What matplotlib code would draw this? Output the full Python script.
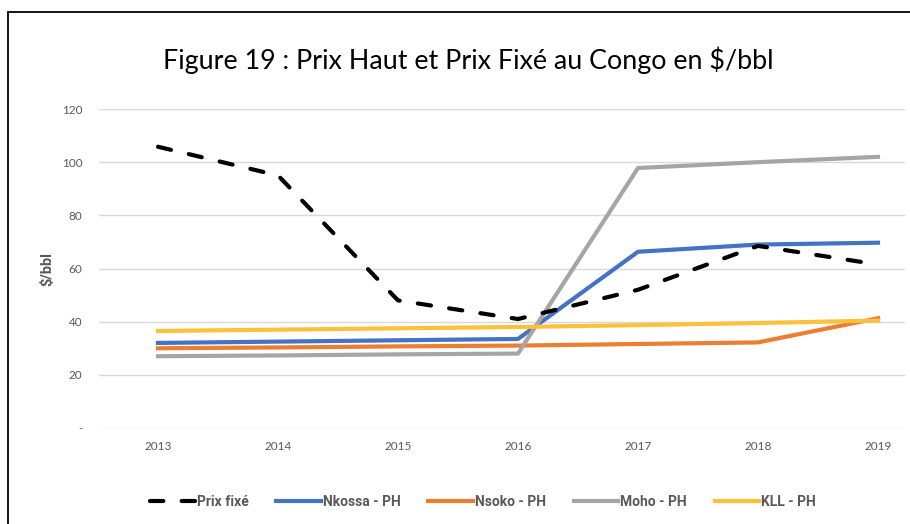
import matplotlib
matplotlib.use("Agg")
import matplotlib.pyplot as plt
from matplotlib.patches import Rectangle

years = [2013, 2014, 2015, 2016, 2017, 2018, 2019]
prix_fixe = [105.8, 95.0, 48.0, 41.0, 52.0, 68.5, 61.5]
nkossa = [32.0, 32.5, 33.0, 33.5, 66.3, 69.0, 69.7]
nsoko = [30.0, 30.3, 30.7, 31.0, 31.6, 32.2, 41.3]
moho = [27.0, 27.3, 27.7, 28.0, 97.8, 100.0, 102.0]
kll = [36.5, 37.0, 37.5, 38.0, 38.7, 39.5, 40.4]

y_ticks = [0, 20, 40, 60, 80, 100, 120]
y_labels = ["-", "20", "40", "60", "80", "100", "120"]

W, H = 910, 524
font = "Lato"
font_bold = "Roboto"
grey_txt = "#595959"

fig = plt.figure(figsize=(W / 100, H / 100), dpi=100)
fig.patch.set_facecolor("white")

# cadre noir autour du graphique
fig.patches.append(Rectangle((8 / W, -0.1), 1.2, 1 - 12 / H + 0.1, transform=fig.transFigure,
                             fill=False, edgecolor="black", linewidth=1.3))

ax = fig.add_axes([99 / W, 1 - 428 / H, (905 - 99) / W, (428 - 109) / H])

lw = 3.0
ax.plot(years, prix_fixe, color="black", linewidth=lw, linestyle=(0, (3.2, 4.4)),
        dash_capstyle="round", solid_joinstyle="round", label="Prix fixé", zorder=3)
ax.plot(years, nkossa, color="#4472C4", linewidth=lw, label="Nkossa - PH", zorder=2)
ax.plot(years, nsoko, color="#ED7D31", linewidth=lw, label="Nsoko - PH", zorder=2)
ax.plot(years, moho, color="#A5A5A5", linewidth=lw, label="Moho - PH", zorder=2)
ax.plot(years, kll, color="#FBC13B", linewidth=lw, label="KLL - PH", zorder=2)

ax.set_xlim(2013 - 59 / 120, 2019 + 27 / 120)
ax.set_ylim(0, 120)
ax.set_yticks(y_ticks)
ax.set_yticklabels(y_labels)
ax.set_xticks(years)
ax.set_xticklabels([str(y) for y in years])
ax.grid(axis="y", color="#D9D9D9", linewidth=1)
ax.set_axisbelow(True)
for s in ax.spines.values():
    s.set_visible(False)
ax.tick_params(length=0, colors=grey_txt, labelsize=8.5, pad=12)
ax.tick_params(axis="x", pad=9)
for lab in ax.get_xticklabels() + ax.get_yticklabels():
    lab.set_fontfamily(font)

ax.set_ylabel("$/bbl", fontfamily=font_bold, fontweight="bold", fontsize=10.5, color=grey_txt, labelpad=5)

fig.text(468 / W, 1 - 60 / H, "Figure 19 : Prix Haut et Prix Fixé au Congo en $/bbl",
         ha="center", va="center", fontsize=19.4, fontfamily=font, color="black")

leg = fig.legend(loc="center", bbox_to_anchor=(483 / W, 1 - 502 / H), ncol=5, frameon=False,
                 handlelength=3.2, handletextpad=0.15, columnspacing=2.0,
                 prop={"family": font_bold, "weight": "bold", "size": 10})
for t in leg.get_texts():
    t.set_color(grey_txt)

fig.savefig("out.png", dpi=100)
